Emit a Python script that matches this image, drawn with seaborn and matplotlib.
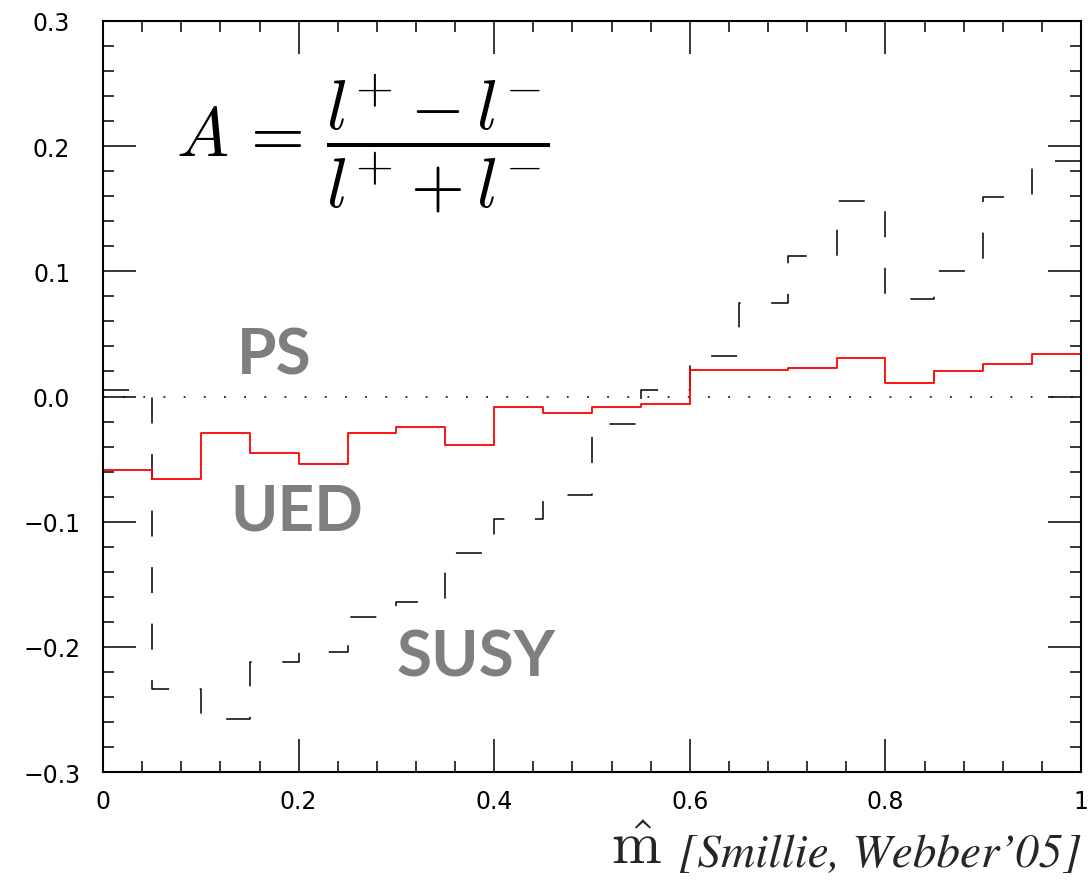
import numpy as np
import pandas as pd
import matplotlib
matplotlib.use('Agg')
import matplotlib.pyplot as plt
import seaborn as sns
from matplotlib.ticker import MultipleLocator, FixedLocator, FixedFormatter

# asymmetry per m-hat bin (20 bins of width 0.05)
bin_edges = [round(0.05 * i, 2) for i in range(21)]
ued = [-0.059, -0.066, -0.029, -0.045, -0.054, -0.029, -0.024, -0.039, -0.008, -0.013,
       -0.008, -0.006, 0.021, 0.021, 0.023, 0.031, 0.011, 0.020, 0.026, 0.034]
susy = [0.005, -0.234, -0.258, -0.212, -0.204, -0.176, -0.164, -0.125, -0.098, -0.079,
        -0.022, 0.005, 0.032, 0.075, 0.112, 0.156, 0.078, 0.100, 0.159, 0.188]

x_ticks = [0, 0.2, 0.4, 0.6, 0.8, 1.0]
x_ticklabels = ['0', '0.2', '0.4', '0.6', '0.8', '1']
y_ticks = [-0.3, -0.2, -0.1, 0.0, 0.1, 0.2, 0.3]
y_ticklabels = ['\u22120.3', '\u22120.2', '\u22120.1', '0.0', '0.1', '0.2', '0.3']

edges = np.array(bin_edges)
centers = (edges[:-1] + edges[1:]) / 2
df = pd.DataFrame({
    'mhat': np.concatenate([centers, centers]),
    'A': ued + susy,
    'model': ['UED'] * len(ued) + ['SUSY'] * len(susy),
})

sns.set_style('ticks')
plt.rcParams['font.family'] = ['DejaVu Sans']
plt.rcParams['mathtext.fontset'] = 'cm'

fig = plt.figure(figsize=(10.88, 8.87), dpi=100)
ax = fig.add_axes([0.0947, 0.1285, 0.8989, 0.8467])

lw = 1.1
# zero line (dotted)
ax.axhline(0, color='black', lw=lw, linestyle=(0, (1.2, 12.0)), zorder=1)

# SUSY - dashed black
sns.histplot(data=df[df['model'] == 'SUSY'], x='mhat', weights='A', bins=bin_edges,
             element='step', fill=False, color='black', linewidth=lw,
             linestyle=(0, (17, 20)), ax=ax)
ax.vlines([bin_edges[0], bin_edges[-1]], 0, [susy[0], susy[-1]], color='black',
          lw=lw, linestyle=(0, (17, 20)))

# UED - solid red
sns.histplot(data=df[df['model'] == 'UED'], x='mhat', weights='A', bins=bin_edges,
             element='step', fill=False, color='#ff0000', linewidth=1.3, ax=ax)
ax.vlines([bin_edges[0], bin_edges[-1]], 0, [ued[0], ued[-1]], color='#ff0000', lw=1.3)

ax.set_xlim(0, 1)
ax.set_ylim(-0.3, 0.3)
ax.set_xlabel('')
ax.set_ylabel('')

ax.xaxis.set_major_locator(FixedLocator(x_ticks))
ax.xaxis.set_major_formatter(FixedFormatter(x_ticklabels))
ax.xaxis.set_minor_locator(MultipleLocator(0.04))
ax.yaxis.set_major_locator(FixedLocator(y_ticks))
ax.yaxis.set_major_formatter(FixedFormatter(y_ticklabels))
ax.yaxis.set_minor_locator(MultipleLocator(0.02))

ax.tick_params(which='both', direction='in', top=True, right=True, color='black',
               labelsize=17, labelcolor='black')
ax.tick_params(which='major', length=23.5, width=1.1)
ax.tick_params(which='minor', length=8, width=1.1)
ax.tick_params(axis='x', which='major', pad=12)
ax.tick_params(axis='y', which='major', pad=37)
for lbl in ax.get_yticklabels():
    lbl.set_horizontalalignment('center')

for sp in ax.spines.values():
    sp.set_visible(True)
    sp.set_linewidth(1.5)
    sp.set_color('black')

# formula
ax.text(0.075, 0.202, r'$A\,=\,\dfrac{l^{+} - l^{-}}{l^{+} + l^{-}}$', fontsize=50,
        ha='left', va='center', color='black')

# model labels
lab_kw = dict(fontsize=46, fontweight='bold', color='#7f7f7f', family=['Lato', 'DejaVu Sans'],
              ha='left', va='baseline')
ax.text(0.137, 0.018, 'PS', **lab_kw)
ax.text(0.130, -0.106, 'UED', **lab_kw)
ax.text(0.300, -0.223, 'SUSY', **lab_kw)

# axis caption
ref = fig.text(0.993, 0.022, '[Smillie, Webber\u201905]', fontsize=34,
               family=['STIXGeneral', 'DejaVu Serif'], style='italic',
               ha='right', va='baseline')
ax.annotate(r'$\hat{\mathrm{m}}$', xy=(0, 0), xycoords=ref, xytext=(-12, 0),
            textcoords='offset points', fontsize=43, ha='right', va='bottom')

plt.savefig('out.png', dpi=100)
plt.close()
